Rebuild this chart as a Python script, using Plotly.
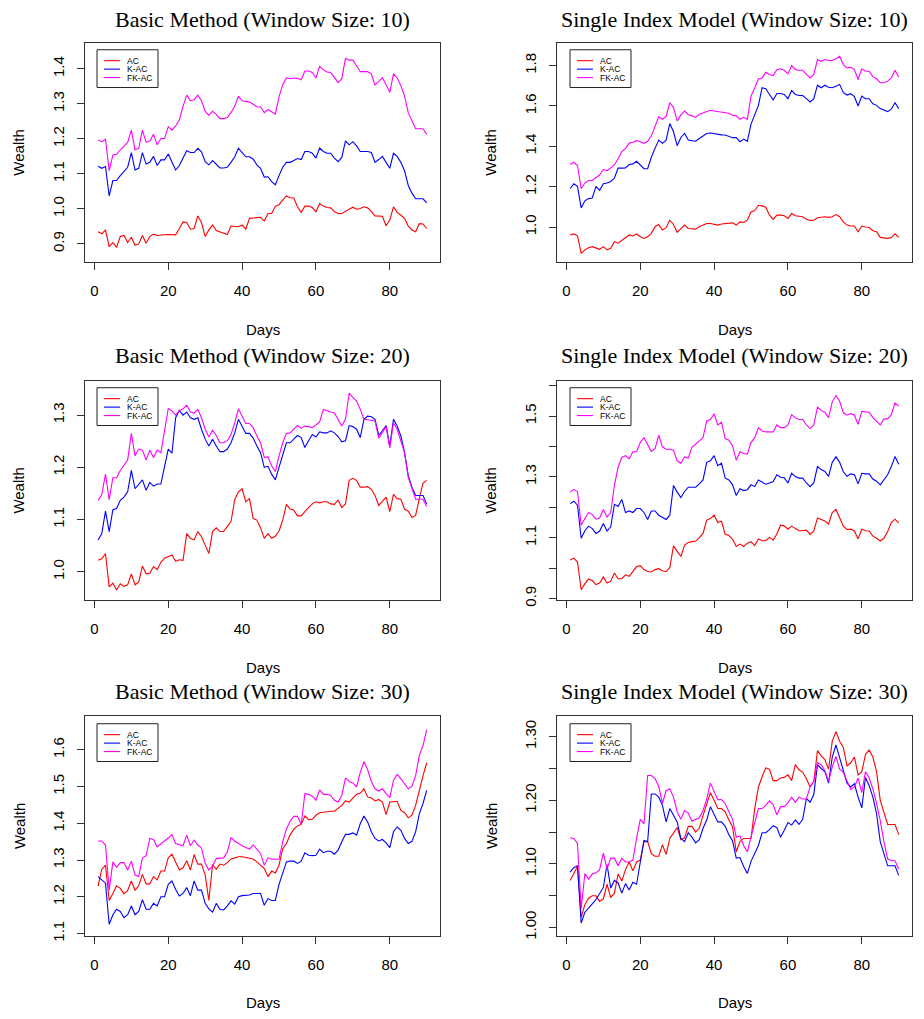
import plotly.graph_objects as go

days = list(range(1, 91))
series_names = ["AC", "K-AC", "FK-AC"]
series_colors = ["#FF0000", "#0000FF", "#FF00FF"]
x_ticks = [0, 20, 40, 60, 80]

# ---- Basic Method, window 10 ----
basic10_ac = [0.935,0.929,0.94,0.892,0.904,0.89,0.921,0.924,0.904,0.919,
              0.896,0.9,0.924,0.902,0.921,0.928,0.924,0.924,0.926,0.927,
              0.927,0.926,0.944,0.963,0.961,0.942,0.944,0.98,0.961,0.921,
              0.94,0.954,0.938,0.935,0.932,0.927,0.951,0.949,0.949,0.954,
              0.942,0.973,0.975,0.975,0.976,0.966,0.987,0.987,1.008,1.012,
              1.025,1.037,1.032,1.031,1.006,0.99,1.008,1.008,1.004,0.992,
              1.015,1.008,1.004,1.003,0.992,0.987,0.987,0.992,0.999,1.005,
              0.999,1.001,1.006,1.003,0.993,0.98,0.98,0.979,0.952,0.968,
              1.006,0.99,0.982,0.973,0.951,0.94,0.935,0.958,0.957,0.944]
basic10_kac = [1.122,1.116,1.121,1.037,1.081,1.081,1.095,1.107,1.119,1.161,
               1.111,1.116,1.161,1.128,1.133,1.15,1.124,1.14,1.14,1.157,
               1.135,1.111,1.124,1.147,1.166,1.161,1.161,1.173,1.163,1.135,
               1.126,1.138,1.128,1.117,1.117,1.119,1.133,1.149,1.173,1.161,
               1.149,1.149,1.142,1.126,1.116,1.091,1.092,1.078,1.069,1.095,
               1.119,1.133,1.133,1.138,1.144,1.141,1.164,1.164,1.159,1.145,
               1.174,1.164,1.159,1.159,1.145,1.135,1.147,1.194,1.183,1.192,
               1.18,1.164,1.164,1.164,1.161,1.133,1.141,1.15,1.133,1.116,
               1.159,1.15,1.133,1.109,1.067,1.045,1.029,1.029,1.029,1.017]
basic10_fkac = [1.197,1.192,1.199,1.109,1.154,1.156,1.169,1.18,1.19,1.225,
                1.169,1.173,1.225,1.19,1.194,1.213,1.183,1.201,1.201,1.235,
                1.225,1.237,1.254,1.293,1.325,1.309,1.312,1.325,1.309,1.279,
                1.267,1.279,1.27,1.258,1.258,1.261,1.275,1.293,1.322,1.309,
                1.306,1.305,1.299,1.292,1.291,1.275,1.284,1.278,1.271,1.32,
                1.355,1.374,1.372,1.374,1.373,1.369,1.394,1.394,1.39,1.374,
                1.407,1.397,1.391,1.39,1.374,1.361,1.372,1.43,1.425,1.425,
                1.409,1.392,1.392,1.392,1.386,1.354,1.364,1.375,1.355,1.333,
                1.386,1.374,1.352,1.322,1.275,1.251,1.229,1.229,1.229,1.213]

# ---- Single Index Model, window 10 ----
sim10_ac = [0.961,0.966,0.957,0.87,0.887,0.898,0.903,0.895,0.89,0.903,
            0.887,0.895,0.928,0.92,0.933,0.944,0.961,0.956,0.966,0.952,
            0.944,0.952,0.969,1.002,1.013,0.985,0.997,1.034,1.013,0.974,
            0.993,1.01,0.993,0.993,0.99,1.002,1.01,1.018,1.018,1.015,
            1.01,1.015,1.018,1.018,1.021,1.01,1.026,1.023,1.034,1.075,
            1.082,1.108,1.105,1.098,1.059,1.038,1.059,1.059,1.056,1.043,
            1.067,1.056,1.052,1.051,1.039,1.033,1.034,1.046,1.049,1.051,
            1.048,1.051,1.062,1.051,1.026,1.01,1.005,1.005,0.977,1.005,
            1.0,0.998,0.982,0.977,0.949,0.946,0.944,0.948,0.967,0.949]
sim10_kac = [1.19,1.215,1.202,1.095,1.13,1.141,1.144,1.202,1.182,1.215,
             1.218,1.226,1.243,1.292,1.292,1.293,1.31,1.313,1.326,1.305,
             1.289,1.289,1.346,1.39,1.431,1.415,1.431,1.513,1.472,1.403,
             1.444,1.464,1.431,1.428,1.425,1.439,1.452,1.464,1.466,1.462,
             1.459,1.457,1.456,1.449,1.443,1.443,1.423,1.436,1.425,1.51,
             1.559,1.603,1.69,1.685,1.657,1.63,1.662,1.662,1.657,1.636,
             1.677,1.657,1.652,1.652,1.636,1.62,1.636,1.703,1.69,1.703,
             1.693,1.69,1.698,1.707,1.666,1.654,1.661,1.646,1.6,1.649,
             1.636,1.636,1.611,1.603,1.587,1.579,1.572,1.584,1.616,1.587]
sim10_fkac = [1.31,1.321,1.305,1.19,1.218,1.231,1.231,1.244,1.259,1.285,
              1.28,1.293,1.308,1.338,1.374,1.39,1.416,1.42,1.428,1.423,
              1.415,1.425,1.452,1.498,1.546,1.534,1.548,1.616,1.592,1.526,
              1.556,1.575,1.556,1.551,1.543,1.559,1.567,1.575,1.579,1.575,
              1.572,1.57,1.569,1.564,1.554,1.551,1.534,1.544,1.534,1.649,
              1.69,1.734,1.739,1.767,1.756,1.751,1.78,1.784,1.777,1.759,
              1.8,1.78,1.777,1.777,1.756,1.739,1.756,1.83,1.821,1.83,
              1.825,1.825,1.834,1.846,1.805,1.789,1.792,1.78,1.731,1.784,
              1.772,1.772,1.744,1.736,1.715,1.715,1.723,1.739,1.777,1.744]

# ---- Basic Method, window 20 ----
basic20_ac = [1.022,1.025,1.035,0.971,0.978,0.965,0.977,0.972,0.975,0.996,
              0.975,0.98,1.011,0.996,0.997,1.01,1.004,1.018,1.026,1.029,
              1.032,1.02,1.023,1.022,1.073,1.064,1.061,1.077,1.067,1.051,
              1.035,1.077,1.084,1.077,1.077,1.087,1.096,1.138,1.153,1.159,
              1.134,1.14,1.102,1.099,1.084,1.064,1.073,1.064,1.068,1.078,
              1.099,1.129,1.12,1.118,1.107,1.107,1.116,1.123,1.13,1.134,
              1.132,1.134,1.134,1.13,1.129,1.137,1.123,1.13,1.175,1.179,
              1.175,1.162,1.162,1.163,1.158,1.146,1.127,1.134,1.143,1.115,
              1.148,1.14,1.139,1.12,1.116,1.104,1.108,1.14,1.17,1.175]
basic20_kac = [1.061,1.073,1.116,1.077,1.119,1.121,1.137,1.143,1.153,1.194,
               1.159,1.168,1.176,1.156,1.171,1.164,1.168,1.168,1.2,1.235,
               1.227,1.295,1.309,1.3,1.306,1.295,1.292,1.295,1.273,1.254,
               1.241,1.254,1.241,1.23,1.23,1.235,1.247,1.266,1.292,1.279,
               1.265,1.265,1.256,1.241,1.228,1.2,1.202,1.187,1.176,1.2,
               1.225,1.247,1.247,1.254,1.261,1.257,1.238,1.251,1.263,1.258,
               1.268,1.266,1.266,1.27,1.266,1.259,1.249,1.251,1.28,1.278,
               1.273,1.257,1.292,1.298,1.297,1.292,1.261,1.27,1.28,1.241,
               1.292,1.279,1.26,1.228,1.184,1.162,1.146,1.146,1.146,1.13]
basic20_fkac = [1.137,1.148,1.187,1.138,1.18,1.18,1.194,1.203,1.214,1.265,
                1.222,1.235,1.233,1.214,1.233,1.219,1.233,1.228,1.275,1.313,
                1.308,1.3,1.309,1.312,1.319,1.306,1.304,1.311,1.295,1.273,
                1.258,1.271,1.261,1.247,1.247,1.251,1.263,1.285,1.312,1.298,
                1.284,1.284,1.276,1.26,1.247,1.219,1.22,1.203,1.192,1.222,
                1.247,1.265,1.266,1.273,1.28,1.275,1.279,1.278,1.276,1.281,
                1.287,1.311,1.308,1.306,1.304,1.29,1.279,1.292,1.342,1.334,
                1.327,1.311,1.292,1.291,1.29,1.289,1.256,1.266,1.278,1.237,
                1.285,1.273,1.252,1.228,1.181,1.159,1.139,1.139,1.139,1.125]

# ---- Single Index Model, window 20 ----
sim20_ac = [1.027,1.033,1.02,0.929,0.949,0.964,0.959,0.946,0.951,0.971,
            0.951,0.957,0.984,0.965,0.965,0.978,0.973,0.989,1.005,1.008,
            0.995,0.989,0.987,0.995,0.998,0.991,0.988,1.002,1.073,1.055,
            1.038,1.076,1.084,1.087,1.089,1.1,1.114,1.158,1.163,1.174,
            1.15,1.154,1.111,1.107,1.095,1.071,1.079,1.071,1.082,1.087,
            1.074,1.096,1.09,1.09,1.101,1.092,1.112,1.141,1.139,1.128,
            1.138,1.13,1.123,1.123,1.125,1.111,1.122,1.165,1.16,1.155,
            1.145,1.183,1.193,1.165,1.138,1.127,1.128,1.122,1.096,1.128,
            1.123,1.122,1.105,1.098,1.089,1.098,1.12,1.15,1.161,1.148]
sim20_kac = [1.212,1.22,1.207,1.098,1.123,1.138,1.13,1.114,1.122,1.147,
             1.122,1.136,1.21,1.203,1.226,1.183,1.188,1.183,1.196,1.196,
             1.183,1.16,1.188,1.188,1.174,1.168,1.16,1.174,1.272,1.25,
             1.232,1.252,1.266,1.266,1.266,1.277,1.29,1.348,1.353,1.37,
             1.337,1.345,1.296,1.29,1.274,1.239,1.261,1.255,1.258,1.274,
             1.268,1.29,1.283,1.276,1.28,1.285,1.307,1.299,1.297,1.28,
             1.312,1.301,1.296,1.296,1.28,1.268,1.28,1.334,1.324,1.318,
             1.302,1.348,1.366,1.348,1.317,1.302,1.31,1.307,1.277,1.312,
             1.31,1.31,1.293,1.286,1.274,1.29,1.307,1.334,1.367,1.342]
sim20_fkac = [1.25,1.259,1.252,1.141,1.163,1.183,1.176,1.161,1.165,1.193,
              1.168,1.183,1.272,1.332,1.364,1.37,1.359,1.383,1.383,1.413,
              1.429,1.405,1.384,1.393,1.437,1.399,1.391,1.391,1.388,1.353,
              1.345,1.366,1.362,1.397,1.408,1.418,1.429,1.484,1.489,1.508,
              1.471,1.48,1.426,1.421,1.402,1.355,1.383,1.377,1.375,1.413,
              1.429,1.462,1.451,1.448,1.448,1.448,1.471,1.462,1.462,1.471,
              1.505,1.495,1.489,1.489,1.471,1.459,1.471,1.53,1.518,1.513,
              1.495,1.547,1.568,1.549,1.511,1.503,1.508,1.503,1.473,1.516,
              1.514,1.513,1.495,1.484,1.471,1.491,1.491,1.505,1.543,1.533]

# ---- Basic Method, window 30 ----
basic30_ac = [1.229,1.275,1.286,1.19,1.209,1.23,1.223,1.208,1.217,1.243,
              1.218,1.23,1.261,1.235,1.235,1.255,1.246,1.27,1.27,1.306,
              1.316,1.293,1.273,1.279,1.298,1.273,1.315,1.289,1.289,1.259,
              1.19,1.288,1.275,1.289,1.286,1.293,1.303,1.306,1.309,1.309,
              1.307,1.305,1.303,1.295,1.286,1.277,1.255,1.27,1.265,1.286,
              1.331,1.345,1.368,1.384,1.393,1.397,1.42,1.41,1.411,1.422,
              1.429,1.431,1.433,1.433,1.433,1.44,1.449,1.461,1.458,1.469,
              1.479,1.482,1.494,1.472,1.469,1.461,1.465,1.458,1.424,1.458,
              1.458,1.46,1.435,1.429,1.415,1.422,1.449,1.494,1.53,1.565]
basic30_kac = [1.255,1.246,1.237,1.125,1.151,1.166,1.16,1.143,1.151,1.175,
               1.151,1.16,1.192,1.166,1.166,1.182,1.175,1.2,1.2,1.234,
               1.243,1.22,1.202,1.209,1.225,1.203,1.243,1.218,1.218,1.182,
               1.167,1.158,1.182,1.166,1.164,1.175,1.189,1.18,1.2,1.203,
               1.203,1.205,1.209,1.209,1.209,1.177,1.195,1.19,1.19,1.234,
               1.264,1.295,1.297,1.297,1.291,1.297,1.32,1.313,1.312,1.313,
               1.33,1.32,1.324,1.324,1.316,1.327,1.35,1.37,1.37,1.374,
               1.368,1.399,1.42,1.404,1.377,1.359,1.352,1.356,1.347,1.334,
               1.377,1.39,1.381,1.359,1.345,1.351,1.377,1.426,1.454,1.49]
basic30_fkac = [1.352,1.352,1.341,1.218,1.295,1.28,1.293,1.293,1.273,1.297,
                1.259,1.255,1.306,1.312,1.359,1.356,1.336,1.345,1.352,1.36,
                1.37,1.345,1.342,1.339,1.368,1.339,1.354,1.341,1.333,1.291,
                1.273,1.284,1.304,1.304,1.306,1.322,1.361,1.352,1.345,1.339,
                1.334,1.33,1.341,1.33,1.318,1.286,1.306,1.302,1.302,1.302,
                1.35,1.384,1.406,1.419,1.419,1.397,1.481,1.479,1.474,1.463,
                1.491,1.479,1.479,1.476,1.463,1.458,1.476,1.524,1.514,1.51,
                1.499,1.539,1.568,1.546,1.514,1.494,1.488,1.494,1.481,1.47,
                1.517,1.533,1.521,1.508,1.494,1.501,1.53,1.585,1.612,1.655]

# ---- Single Index Model, window 30 ----
sim30_ac = [1.074,1.084,1.096,1.016,1.036,1.046,1.05,1.05,1.041,1.045,
            1.068,1.047,1.054,1.084,1.073,1.091,1.103,1.089,1.103,1.106,
            1.135,1.135,1.116,1.112,1.112,1.13,1.115,1.14,1.148,1.157,
            1.138,1.141,1.159,1.159,1.15,1.156,1.176,1.195,1.212,1.2,
            1.187,1.187,1.182,1.169,1.158,1.119,1.135,1.14,1.14,1.14,
            1.187,1.221,1.237,1.251,1.249,1.231,1.231,1.235,1.236,1.24,
            1.231,1.256,1.248,1.244,1.234,1.221,1.23,1.278,1.27,1.264,
            1.249,1.293,1.308,1.293,1.283,1.254,1.259,1.268,1.24,1.245,
            1.272,1.279,1.268,1.245,1.2,1.18,1.162,1.162,1.162,1.146]
sim30_kac = [1.087,1.094,1.097,1.007,1.024,1.03,1.037,1.044,1.053,1.063,
             1.099,1.062,1.074,1.07,1.054,1.069,1.059,1.071,1.068,1.103,
             1.137,1.135,1.21,1.21,1.205,1.192,1.166,1.187,1.176,1.166,
             1.14,1.135,1.149,1.142,1.133,1.138,1.156,1.169,1.19,1.177,
             1.166,1.166,1.159,1.146,1.136,1.109,1.11,1.096,1.085,1.104,
             1.118,1.129,1.149,1.149,1.154,1.16,1.157,1.142,1.153,1.165,
             1.161,1.169,1.162,1.17,1.203,1.197,1.209,1.256,1.25,1.245,
             1.227,1.268,1.287,1.266,1.247,1.227,1.221,1.226,1.205,1.188,
             1.236,1.223,1.205,1.179,1.135,1.114,1.097,1.097,1.097,1.082]
sim30_fkac = [1.141,1.14,1.132,1.03,1.085,1.076,1.084,1.086,1.091,1.117,
              1.092,1.109,1.109,1.097,1.109,1.103,1.103,1.106,1.14,1.17,
              1.163,1.239,1.239,1.234,1.222,1.195,1.215,1.218,1.205,1.182,
              1.17,1.184,1.18,1.167,1.17,1.172,1.184,1.202,1.227,1.214,
              1.201,1.201,1.195,1.182,1.17,1.142,1.144,1.129,1.119,1.142,
              1.163,1.187,1.187,1.192,1.199,1.193,1.177,1.19,1.19,1.196,
              1.205,1.197,1.205,1.202,1.202,1.221,1.23,1.259,1.256,1.247,
              1.23,1.252,1.269,1.249,1.244,1.23,1.217,1.221,1.235,1.212,
              1.245,1.235,1.218,1.195,1.168,1.135,1.108,1.105,1.105,1.092]

titles = ["Basic Method (Window Size: 10)", "Single Index Model (Window Size: 10)",
          "Basic Method (Window Size: 20)", "Single Index Model (Window Size: 20)",
          "Basic Method (Window Size: 30)", "Single Index Model (Window Size: 30)"]
panel_series = [[basic10_ac, basic10_kac, basic10_fkac],
                [sim10_ac, sim10_kac, sim10_fkac],
                [basic20_ac, basic20_kac, basic20_fkac],
                [sim20_ac, sim20_kac, sim20_fkac],
                [basic30_ac, basic30_kac, basic30_fkac],
                [sim30_ac, sim30_kac, sim30_fkac]]
y_tick_vals = [[0.9, 1.0, 1.1, 1.2, 1.3, 1.4],
               [1.0, 1.2, 1.4, 1.6, 1.8],
               [1.0, 1.1, 1.2, 1.3],
               [0.9, 1.0, 1.1, 1.2, 1.3, 1.4, 1.5, 1.6],
               [1.1, 1.2, 1.3, 1.4, 1.5, 1.6],
               [1.00, 1.05, 1.10, 1.15, 1.20, 1.25, 1.30]]
y_tick_text = [["0.9", "1.0", "1.1", "1.2", "1.3", "1.4"],
               ["1.0", "1.2", "1.4", "1.6", "1.8"],
               ["1.0", "1.1", "1.2", "1.3"],
               ["0.9", "", "1.1", "", "1.3", "", "1.5", ""],
               ["1.1", "1.2", "1.3", "1.4", "1.5", "1.6"],
               ["1.00", "", "1.10", "", "1.20", "", "1.30"]]
y_ranges = [[0.847, 1.4745], [0.8246, 1.913], [0.945, 1.3658],
            [0.8935, 1.6163], [1.0919, 1.693], [0.9859, 1.3329]]
x_range = [-2.55, 93.6]

# page is 924x1019; the figure sits 8px in from the top-left corner of the page
OFF = 8
W, H = 924 - OFF, 1019 - OFF


def px(xp):
    return (xp - OFF) / W


def py(yp):
    return 1 - (yp - OFF) / H


# plot boxes in page pixels
col_lr = [(85, 440), (557, 912)]
row_tb = [(43, 264), (383, 604), (720, 942)]
title_y = [20, 358, 696]
days_y = [331, 671, 1008]
wealth_x = [19, 491]

sans = "Liberation Sans, Arial, Helvetica, sans-serif"
serif = "Liberation Serif, Times New Roman, Times, serif"

fig = go.Figure()
annotations = []
shapes = []
layout = {}

for i in range(6):
    k = i + 1
    r, c = divmod(i, 2)
    left, right = col_lr[c]
    top, bottom = row_tb[r]
    xname = "x" if k == 1 else f"x{k}"
    yname = "y" if k == 1 else f"y{k}"
    for s in range(3):
        fig.add_trace(go.Scatter(x=days, y=panel_series[i][s], mode="lines",
                                 name=series_names[s], showlegend=False,
                                 line=dict(color=series_colors[s], width=1.1),
                                 xaxis=xname, yaxis=yname))
    axis_common = dict(showgrid=False, zeroline=False, showline=True, mirror=True,
                       linecolor="#333333", linewidth=1, ticks="outside", ticklen=7,
                       tickcolor="#333333", tickwidth=1,
                       tickfont=dict(family=sans, size=15, color="black"))
    layout["xaxis" if k == 1 else f"xaxis{k}"] = dict(
        axis_common, domain=[px(left), px(right)], range=x_range,
        tickvals=x_ticks, ticktext=[str(v) for v in x_ticks],
        anchor=yname, ticklabelstandoff=8)
    layout["yaxis" if k == 1 else f"yaxis{k}"] = dict(
        axis_common, domain=[py(bottom), py(top)], range=y_ranges[i],
        tickvals=y_tick_vals[i], ticktext=y_tick_text[i], tickangle=-90,
        anchor=xname, ticklabelstandoff=7)

    cx = (left + right) / 2
    annotations.append(dict(text=titles[i], x=px(cx), y=py(title_y[r]),
                            xref="paper", yref="paper", showarrow=False,
                            xanchor="center", yanchor="middle",
                            font=dict(family=serif, size=22, color="black")))
    annotations.append(dict(text="Days", x=px(cx), y=py(days_y[r]),
                            xref="paper", yref="paper", showarrow=False,
                            xanchor="center", yanchor="middle",
                            font=dict(family=sans, size=15, color="black")))
    annotations.append(dict(text="Wealth", x=px(wealth_x[c]), y=py((top + bottom) / 2),
                            xref="paper", yref="paper", showarrow=False, textangle=-90,
                            xanchor="center", yanchor="middle",
                            font=dict(family=sans, size=15, color="black")))

    # legend box (drawn inside each panel, top-left)
    lx = left + 12 + c
    ly = top + 7 + (1 if r == 2 else 0)
    shapes.append(dict(type="rect", xref="paper", yref="paper",
                       x0=px(lx), x1=px(lx + 61), y0=py(ly + 38), y1=py(ly),
                       line=dict(color="#222222", width=1), fillcolor="white"))
    for s in range(3):
        yy = ly + 11 + 8.5 * s
        shapes.append(dict(type="line", xref="paper", yref="paper",
                           x0=px(lx + 7), x1=px(lx + 23), y0=py(yy), y1=py(yy),
                           line=dict(color=series_colors[s], width=1.1)))
        annotations.append(dict(text=series_names[s], x=px(lx + 28), y=py(yy),
                                xref="paper", yref="paper", showarrow=False,
                                xanchor="left", yanchor="middle",
                                font=dict(family=sans, size=8.5, color="black")))

fig.update_layout(**layout)
fig.update_layout(width=W, height=H, margin=dict(l=0, r=0, t=0, b=0),
                  paper_bgcolor="white", plot_bgcolor="white",
                  showlegend=False, annotations=annotations, shapes=shapes)

fig.write_html("out.html")
